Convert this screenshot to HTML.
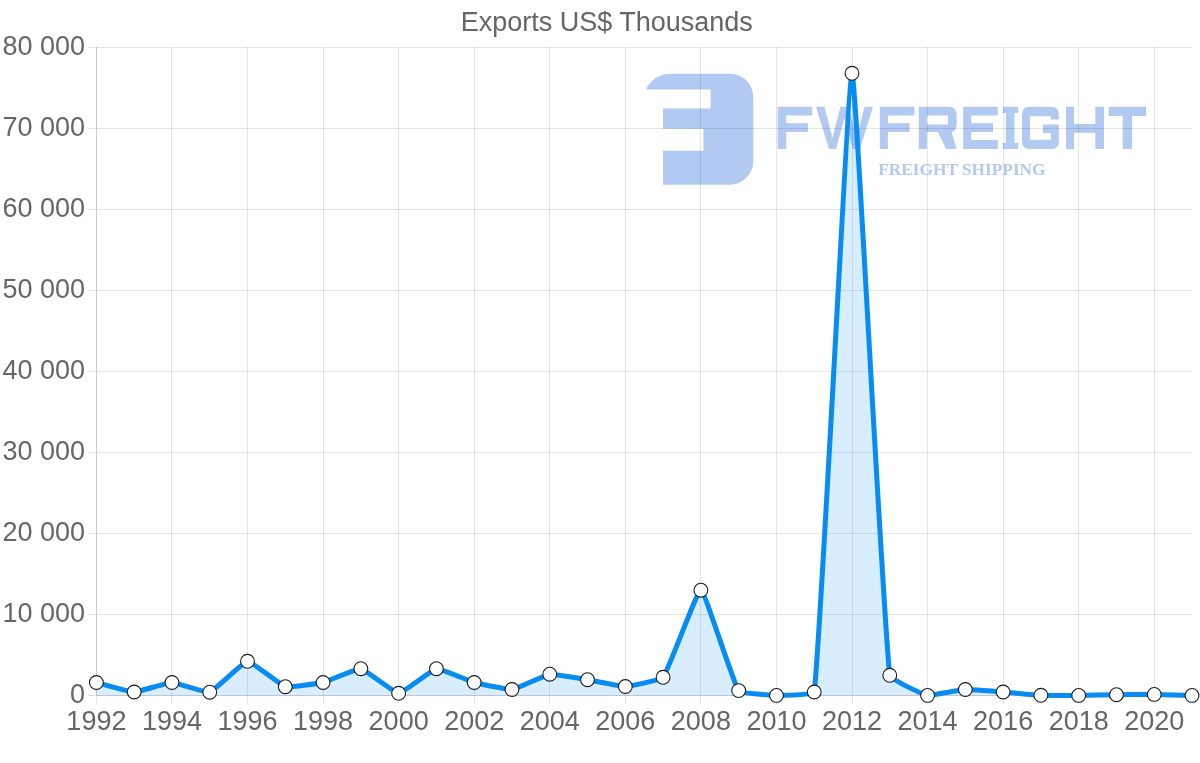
<!DOCTYPE html>
<html><head><meta charset="utf-8"><style>
html,body{margin:0;padding:0;background:#fff;}
body{width:1200px;height:763px;overflow:hidden;}
svg{display:block;} text.g{filter:grayscale(1);} text.b{opacity:0.999}
</style></head><body>
<svg width="1200" height="763" viewBox="0 0 1200 763">
<g fill="#b2c9f2">
<path d="M646.2,89.5 A26,26 0 0 1 669.9,73.8 H730 A23.3,23.3 0 0 1 753.3,97.1 V161 A23.8,23.8 0 0 1 729.5,184.8 H663 V150.8 H703.4 V128.8 H663 V108.6 H710.7 V89.4 Z"/>
<path fill-rule="evenodd" d="M777.6,106.8 H812.3 V115.4 H786.3 V123.3 H807.9 V132 H786.3 V148.9 H777.6 Z"/>
<path fill-rule="evenodd" d="M816,106.8 H824.5 L832.5,138 L840.5,106.8 H848.5 L856.5,138 L864.5,106.8 H873 L860,148.9 H853 L844.5,118 L836,148.9 H829 Z"/>
<path fill-rule="evenodd" d="M879.8,106.8 H914.4 V115.4 H887.9 V123.3 H909.5 V132 H887.9 V148.9 H879.8 Z"/>
<path fill-rule="evenodd" d="M918.8,106.8 H948 Q956.7,106.8 956.7,115.4 V124 Q956.7,131 951.5,132 L956.7,148.9 H946 L938,132 H926.9 V148.9 H918.8 Z M926.9,115.4 V124.5 H948 V115.4 Z"/>
<path fill-rule="evenodd" d="M963.2,106.8 H997.8 V115.4 H971.3 V123.3 H993 V132 H971.3 V140.1 H997.8 V148.9 H963.2 Z"/>
<path fill-rule="evenodd" d="M1002.9,106.8 H1018.1 V113 H1014.5 V142.9 H1018.1 V148.9 H1002.9 V142.9 H1005.8 V113 H1002.9 Z"/>
<path fill-rule="evenodd" d="M1029.5,106.8 H1051.3 Q1058.8,106.8 1058.8,114.3 V119.5 H1050.9 V116.2 H1030 V139.7 H1050.9 V133.2 H1043 V124.5 H1058.8 V141.4 Q1058.8,148.9 1051.3,148.9 H1029.5 Q1022,148.9 1022,141.4 V114.3 Q1022,106.8 1029.5,106.8 Z"/>
<path fill-rule="evenodd" d="M1066,106.8 H1074 V124 H1095.3 V106.8 H1104 V148.9 H1095.3 V132.7 H1074 V148.9 H1066 Z"/>
<path fill-rule="evenodd" d="M1108.7,106.8 H1146 V116 H1132 V148.9 H1122.7 V116 H1108.7 Z"/>
</g>
<text class="b" x="878.3" y="174.6" font-family="'Liberation Serif', serif" font-weight="bold" font-size="17.3" fill="#b2c9f2">FREIGHT SHIPPING</text>
<line x1="88" y1="695.5" x2="1192" y2="695.5" stroke="rgba(0,0,0,0.1)" stroke-width="1"/>
<line x1="88" y1="614.5" x2="1192" y2="614.5" stroke="rgba(0,0,0,0.1)" stroke-width="1"/>
<line x1="88" y1="533.5" x2="1192" y2="533.5" stroke="rgba(0,0,0,0.1)" stroke-width="1"/>
<line x1="88" y1="452.5" x2="1192" y2="452.5" stroke="rgba(0,0,0,0.1)" stroke-width="1"/>
<line x1="88" y1="371.5" x2="1192" y2="371.5" stroke="rgba(0,0,0,0.1)" stroke-width="1"/>
<line x1="88" y1="290.5" x2="1192" y2="290.5" stroke="rgba(0,0,0,0.1)" stroke-width="1"/>
<line x1="88" y1="209.5" x2="1192" y2="209.5" stroke="rgba(0,0,0,0.1)" stroke-width="1"/>
<line x1="88" y1="128.5" x2="1192" y2="128.5" stroke="rgba(0,0,0,0.1)" stroke-width="1"/>
<line x1="88" y1="47.5" x2="1192" y2="47.5" stroke="rgba(0,0,0,0.1)" stroke-width="1"/>
<line x1="96.5" y1="47" x2="96.5" y2="704" stroke="rgba(0,0,0,0.1)" stroke-width="1"/>
<line x1="171.5" y1="47" x2="171.5" y2="704" stroke="rgba(0,0,0,0.1)" stroke-width="1"/>
<line x1="247.5" y1="47" x2="247.5" y2="704" stroke="rgba(0,0,0,0.1)" stroke-width="1"/>
<line x1="323.5" y1="47" x2="323.5" y2="704" stroke="rgba(0,0,0,0.1)" stroke-width="1"/>
<line x1="398.5" y1="47" x2="398.5" y2="704" stroke="rgba(0,0,0,0.1)" stroke-width="1"/>
<line x1="474.5" y1="47" x2="474.5" y2="704" stroke="rgba(0,0,0,0.1)" stroke-width="1"/>
<line x1="549.5" y1="47" x2="549.5" y2="704" stroke="rgba(0,0,0,0.1)" stroke-width="1"/>
<line x1="625.5" y1="47" x2="625.5" y2="704" stroke="rgba(0,0,0,0.1)" stroke-width="1"/>
<line x1="700.5" y1="47" x2="700.5" y2="704" stroke="rgba(0,0,0,0.1)" stroke-width="1"/>
<line x1="776.5" y1="47" x2="776.5" y2="704" stroke="rgba(0,0,0,0.1)" stroke-width="1"/>
<line x1="852.5" y1="47" x2="852.5" y2="704" stroke="rgba(0,0,0,0.1)" stroke-width="1"/>
<line x1="927.5" y1="47" x2="927.5" y2="704" stroke="rgba(0,0,0,0.1)" stroke-width="1"/>
<line x1="1003.5" y1="47" x2="1003.5" y2="704" stroke="rgba(0,0,0,0.1)" stroke-width="1"/>
<line x1="1078.5" y1="47" x2="1078.5" y2="704" stroke="rgba(0,0,0,0.1)" stroke-width="1"/>
<line x1="1154.5" y1="47" x2="1154.5" y2="704" stroke="rgba(0,0,0,0.1)" stroke-width="1"/>
<line x1="96.5" y1="47" x2="96.5" y2="695.5" stroke="rgba(0,0,0,0.1)" stroke-width="1"/>
<line x1="96.5" y1="695.5" x2="1192" y2="695.5" stroke="rgba(0,0,0,0.1)" stroke-width="1"/>
<path d="M96.40,682.50 C100.18,683.45 130.40,692.00 134.18,692.00 C137.96,692.00 168.18,682.49 171.96,682.50 C175.74,682.51 206.38,693.14 209.74,692.20 C213.94,691.02 243.61,661.58 247.52,661.30 C251.17,661.03 281.18,685.54 285.30,686.70 C288.74,687.66 319.41,683.37 323.08,682.50 C326.96,681.57 357.30,668.19 360.86,668.70 C364.85,669.27 394.86,693.30 398.64,693.30 C402.42,693.30 432.43,669.27 436.42,668.70 C439.98,668.19 470.34,681.44 474.20,682.50 C477.89,683.52 508.31,689.90 511.98,689.50 C515.87,689.07 545.86,674.71 549.76,674.20 C553.41,673.73 583.77,679.09 587.54,679.70 C591.33,680.32 621.57,686.62 625.32,686.50 C629.12,686.38 660.90,680.10 663.10,677.30 C668.46,670.47 697.33,589.58 700.88,590.20 C704.89,590.91 733.08,682.84 738.66,690.60 C740.64,693.36 772.65,695.33 776.44,695.40 C780.21,695.40 813.78,695.40 814.22,692.00 C821.34,633.38 848.17,74.15 852.00,73.30 C855.73,72.48 882.72,617.21 889.78,675.30 C890.28,679.42 923.57,694.65 927.56,695.40 C931.13,695.40 961.54,689.67 965.34,689.50 C969.10,689.33 999.35,691.71 1003.12,692.00 C1006.90,692.29 1037.11,695.13 1040.90,695.30 C1044.67,695.40 1074.90,695.40 1078.68,695.40 C1082.46,695.37 1112.68,694.75 1116.46,694.70 C1120.24,694.65 1150.46,694.37 1154.24,694.40 C1158.02,694.44 1188.24,695.30 1192.02,695.40 L1192.02,695.4 L96.40,695.4 Z" fill="rgba(13,141,240,0.16)"/>
<path d="M96.40,682.50 C100.18,683.45 130.40,692.00 134.18,692.00 C137.96,692.00 168.18,682.49 171.96,682.50 C175.74,682.51 206.38,693.14 209.74,692.20 C213.94,691.02 243.61,661.58 247.52,661.30 C251.17,661.03 281.18,685.54 285.30,686.70 C288.74,687.66 319.41,683.37 323.08,682.50 C326.96,681.57 357.30,668.19 360.86,668.70 C364.85,669.27 394.86,693.30 398.64,693.30 C402.42,693.30 432.43,669.27 436.42,668.70 C439.98,668.19 470.34,681.44 474.20,682.50 C477.89,683.52 508.31,689.90 511.98,689.50 C515.87,689.07 545.86,674.71 549.76,674.20 C553.41,673.73 583.77,679.09 587.54,679.70 C591.33,680.32 621.57,686.62 625.32,686.50 C629.12,686.38 660.90,680.10 663.10,677.30 C668.46,670.47 697.33,589.58 700.88,590.20 C704.89,590.91 733.08,682.84 738.66,690.60 C740.64,693.36 772.65,695.33 776.44,695.40 C780.21,695.40 813.78,695.40 814.22,692.00 C821.34,633.38 848.17,74.15 852.00,73.30 C855.73,72.48 882.72,617.21 889.78,675.30 C890.28,679.42 923.57,694.65 927.56,695.40 C931.13,695.40 961.54,689.67 965.34,689.50 C969.10,689.33 999.35,691.71 1003.12,692.00 C1006.90,692.29 1037.11,695.13 1040.90,695.30 C1044.67,695.40 1074.90,695.40 1078.68,695.40 C1082.46,695.37 1112.68,694.75 1116.46,694.70 C1120.24,694.65 1150.46,694.37 1154.24,694.40 C1158.02,694.44 1188.24,695.30 1192.02,695.40" fill="none" stroke="#068cf2" stroke-width="5" stroke-linejoin="miter" stroke-miterlimit="10"/>
<circle cx="96.40" cy="682.50" r="6.9" fill="#fff" stroke="#1a1a1a" stroke-width="1.1"/>
<circle cx="134.18" cy="692.00" r="6.9" fill="#fff" stroke="#1a1a1a" stroke-width="1.1"/>
<circle cx="171.96" cy="682.50" r="6.9" fill="#fff" stroke="#1a1a1a" stroke-width="1.1"/>
<circle cx="209.74" cy="692.20" r="6.9" fill="#fff" stroke="#1a1a1a" stroke-width="1.1"/>
<circle cx="247.52" cy="661.30" r="6.9" fill="#fff" stroke="#1a1a1a" stroke-width="1.1"/>
<circle cx="285.30" cy="686.70" r="6.9" fill="#fff" stroke="#1a1a1a" stroke-width="1.1"/>
<circle cx="323.08" cy="682.50" r="6.9" fill="#fff" stroke="#1a1a1a" stroke-width="1.1"/>
<circle cx="360.86" cy="668.70" r="6.9" fill="#fff" stroke="#1a1a1a" stroke-width="1.1"/>
<circle cx="398.64" cy="693.30" r="6.9" fill="#fff" stroke="#1a1a1a" stroke-width="1.1"/>
<circle cx="436.42" cy="668.70" r="6.9" fill="#fff" stroke="#1a1a1a" stroke-width="1.1"/>
<circle cx="474.20" cy="682.50" r="6.9" fill="#fff" stroke="#1a1a1a" stroke-width="1.1"/>
<circle cx="511.98" cy="689.50" r="6.9" fill="#fff" stroke="#1a1a1a" stroke-width="1.1"/>
<circle cx="549.76" cy="674.20" r="6.9" fill="#fff" stroke="#1a1a1a" stroke-width="1.1"/>
<circle cx="587.54" cy="679.70" r="6.9" fill="#fff" stroke="#1a1a1a" stroke-width="1.1"/>
<circle cx="625.32" cy="686.50" r="6.9" fill="#fff" stroke="#1a1a1a" stroke-width="1.1"/>
<circle cx="663.10" cy="677.30" r="6.9" fill="#fff" stroke="#1a1a1a" stroke-width="1.1"/>
<circle cx="700.88" cy="590.20" r="6.9" fill="#fff" stroke="#1a1a1a" stroke-width="1.1"/>
<circle cx="738.66" cy="690.60" r="6.9" fill="#fff" stroke="#1a1a1a" stroke-width="1.1"/>
<circle cx="776.44" cy="695.40" r="6.9" fill="#fff" stroke="#1a1a1a" stroke-width="1.1"/>
<circle cx="814.22" cy="692.00" r="6.9" fill="#fff" stroke="#1a1a1a" stroke-width="1.1"/>
<circle cx="852.00" cy="73.30" r="6.9" fill="#fff" stroke="#1a1a1a" stroke-width="1.1"/>
<circle cx="889.78" cy="675.30" r="6.9" fill="#fff" stroke="#1a1a1a" stroke-width="1.1"/>
<circle cx="927.56" cy="695.40" r="6.9" fill="#fff" stroke="#1a1a1a" stroke-width="1.1"/>
<circle cx="965.34" cy="689.50" r="6.9" fill="#fff" stroke="#1a1a1a" stroke-width="1.1"/>
<circle cx="1003.12" cy="692.00" r="6.9" fill="#fff" stroke="#1a1a1a" stroke-width="1.1"/>
<circle cx="1040.90" cy="695.30" r="6.9" fill="#fff" stroke="#1a1a1a" stroke-width="1.1"/>
<circle cx="1078.68" cy="695.40" r="6.9" fill="#fff" stroke="#1a1a1a" stroke-width="1.1"/>
<circle cx="1116.46" cy="694.70" r="6.9" fill="#fff" stroke="#1a1a1a" stroke-width="1.1"/>
<circle cx="1154.24" cy="694.40" r="6.9" fill="#fff" stroke="#1a1a1a" stroke-width="1.1"/>
<circle cx="1192.02" cy="695.40" r="6.9" fill="#fff" stroke="#1a1a1a" stroke-width="1.1"/>
<text class="g" x="85" y="703.4" text-anchor="end" font-family='"Liberation Sans", sans-serif' font-size="27" fill="#666666">0</text>
<text class="g" x="85" y="622.4" text-anchor="end" font-family='"Liberation Sans", sans-serif' font-size="27" fill="#666666">10 000</text>
<text class="g" x="85" y="541.4" text-anchor="end" font-family='"Liberation Sans", sans-serif' font-size="27" fill="#666666">20 000</text>
<text class="g" x="85" y="460.4" text-anchor="end" font-family='"Liberation Sans", sans-serif' font-size="27" fill="#666666">30 000</text>
<text class="g" x="85" y="379.4" text-anchor="end" font-family='"Liberation Sans", sans-serif' font-size="27" fill="#666666">40 000</text>
<text class="g" x="85" y="298.4" text-anchor="end" font-family='"Liberation Sans", sans-serif' font-size="27" fill="#666666">50 000</text>
<text class="g" x="85" y="217.4" text-anchor="end" font-family='"Liberation Sans", sans-serif' font-size="27" fill="#666666">60 000</text>
<text class="g" x="85" y="136.4" text-anchor="end" font-family='"Liberation Sans", sans-serif' font-size="27" fill="#666666">70 000</text>
<text class="g" x="85" y="54.7" text-anchor="end" font-family='"Liberation Sans", sans-serif' font-size="27" fill="#666666">80 000</text>
<text class="g" x="96.40" y="730" text-anchor="middle" font-family='"Liberation Sans", sans-serif' font-size="27" fill="#666666">1992</text>
<text class="g" x="171.96" y="730" text-anchor="middle" font-family='"Liberation Sans", sans-serif' font-size="27" fill="#666666">1994</text>
<text class="g" x="247.52" y="730" text-anchor="middle" font-family='"Liberation Sans", sans-serif' font-size="27" fill="#666666">1996</text>
<text class="g" x="323.08" y="730" text-anchor="middle" font-family='"Liberation Sans", sans-serif' font-size="27" fill="#666666">1998</text>
<text class="g" x="398.64" y="730" text-anchor="middle" font-family='"Liberation Sans", sans-serif' font-size="27" fill="#666666">2000</text>
<text class="g" x="474.20" y="730" text-anchor="middle" font-family='"Liberation Sans", sans-serif' font-size="27" fill="#666666">2002</text>
<text class="g" x="549.76" y="730" text-anchor="middle" font-family='"Liberation Sans", sans-serif' font-size="27" fill="#666666">2004</text>
<text class="g" x="625.32" y="730" text-anchor="middle" font-family='"Liberation Sans", sans-serif' font-size="27" fill="#666666">2006</text>
<text class="g" x="700.88" y="730" text-anchor="middle" font-family='"Liberation Sans", sans-serif' font-size="27" fill="#666666">2008</text>
<text class="g" x="776.44" y="730" text-anchor="middle" font-family='"Liberation Sans", sans-serif' font-size="27" fill="#666666">2010</text>
<text class="g" x="852.00" y="730" text-anchor="middle" font-family='"Liberation Sans", sans-serif' font-size="27" fill="#666666">2012</text>
<text class="g" x="927.56" y="730" text-anchor="middle" font-family='"Liberation Sans", sans-serif' font-size="27" fill="#666666">2014</text>
<text class="g" x="1003.12" y="730" text-anchor="middle" font-family='"Liberation Sans", sans-serif' font-size="27" fill="#666666">2016</text>
<text class="g" x="1078.68" y="730" text-anchor="middle" font-family='"Liberation Sans", sans-serif' font-size="27" fill="#666666">2018</text>
<text class="g" x="1154.24" y="730" text-anchor="middle" font-family='"Liberation Sans", sans-serif' font-size="27" fill="#666666">2020</text>
<text class="g" x="606.8" y="30.9" text-anchor="middle" font-family='"Liberation Sans", sans-serif' font-size="27" fill="#666666">Exports US$ Thousands</text>
</svg>
</body></html>
